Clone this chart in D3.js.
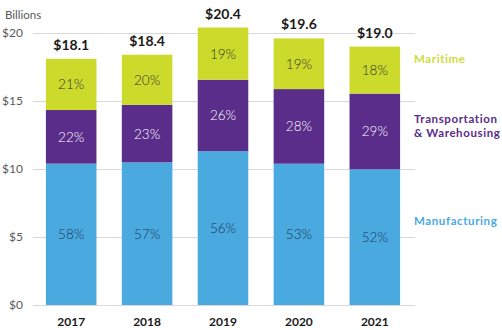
<!DOCTYPE html>
<html>
<head>
<meta charset="utf-8">
<script src="https://cdn.jsdelivr.net/npm/d3@7"></script>
<style>
  html, body { margin: 0; padding: 0; background: #fff; }
  svg { display: block; font-family: "Lato", "Open Sans", sans-serif; }
</style>
</head>
<body>
<svg id="chart" width="502" height="330"></svg>
<script>
// Economic output by sector, billions of dollars
const years = ["2017", "2018", "2019", "2020", "2021"];
const totals = [18.1, 18.4, 20.4, 19.6, 19.0];
const manufacturingPct = [58, 57, 56, 53, 52];
const transportPct = [22, 23, 26, 28, 29];
const maritimePct = [21, 20, 19, 19, 18];
const yTicks = [0, 5, 10, 15, 20];

const sectors = [
  { key: "Manufacturing", pct: manufacturingPct, fill: "#4aaadf", text: "#1d3557", legend: "#4aaadf", legendLines: ["Manufacturing"], legendY: [225] },
  { key: "Transportation", pct: transportPct, fill: "#5a2d8a", text: "#ffffff", legend: "#5a2d8a", legendLines: ["Transportation", "& Warehousing"], legendY: [123, 137] },
  { key: "Maritime", pct: maritimePct, fill: "#ccda2c", text: "#333333", legend: "#cfdc3c", legendLines: ["Maritime"], legendY: [63] }
];

const svg = d3.select("#chart");

const x = d3.scaleBand().domain(years).range([33, 413]).paddingInner(0.334).paddingOuter(0.17);
const y = d3.scaleLinear().domain([0, 20]).range([305, 33]);

// Stack segments: each segment's share of the year's total
const rows = years.map((yr, i) => {
  const sum = sectors.reduce((s, sec) => s + sec.pct[i], 0);
  let acc = 0;
  return sectors.map(sec => {
    const v = totals[i] * sec.pct[i] / sum;
    const seg = { year: yr, y0: acc, y1: acc + v, pct: sec.pct[i], sec };
    acc += v;
    return seg;
  });
});

// Gridlines
svg.append("g").selectAll("line").data(yTicks).join("line")
  .attr("x1", 33).attr("x2", 415)
  .attr("y1", d => Math.round(y(d)) + 0.5).attr("y2", d => Math.round(y(d)) + 0.5)
  .attr("stroke", "#d9d9d9").attr("stroke-width", 1);

// Y axis labels
svg.append("g").selectAll("text").data(yTicks).join("text")
  .attr("x", 23).attr("y", d => y(d) + 4)
  .attr("text-anchor", "end")
  .attr("font-size", 12).attr("fill", "#595959")
  .text(d => "$" + d);

svg.append("text").attr("x", 5).attr("y", 19)
  .attr("font-size", 11.5).attr("fill", "#595959").text("Billions");

// Bars
const barG = svg.append("g");
rows.forEach(row => {
  barG.selectAll(null).data(row).join("rect")
    .attr("x", d => x(d.year))
    .attr("width", x.bandwidth())
    .attr("y", d => y(d.y1))
    .attr("height", d => y(d.y0) - y(d.y1))
    .attr("fill", d => d.sec.fill);
  barG.selectAll(null).data(row).join("text")
    .attr("x", d => x(d.year) + x.bandwidth() / 2)
    .attr("y", d => (y(d.y0) + y(d.y1)) / 2 + 5)
    .attr("text-anchor", "middle")
    .attr("font-size", 13.5).attr("font-weight", 300)
    .attr("fill", d => d.sec.text)
    .text(d => d.pct + "%");
});

// Totals above bars
svg.append("g").selectAll("text").data(years).join("text")
  .attr("x", d => x(d) + x.bandwidth() / 2)
  .attr("y", (d, i) => y(totals[i]) - 9)
  .attr("text-anchor", "middle")
  .attr("font-size", 14).attr("font-weight", "bold").attr("fill", "#1a1a1a")
  .text((d, i) => "$" + totals[i].toFixed(1));

// X axis labels
svg.append("g").selectAll("text").data(years).join("text")
  .attr("x", d => x(d) + x.bandwidth() / 2)
  .attr("y", 326)
  .attr("text-anchor", "middle")
  .attr("font-size", 12).attr("font-weight", "bold").attr("fill", "#1a1a1a")
  .text(d => d);

// Sector labels on the right
const legendG = svg.append("g");
sectors.forEach(sec => {
  sec.legendLines.forEach((line, j) => {
    legendG.append("text")
      .attr("x", 414).attr("y", sec.legendY[j])
      .attr("font-size", 11.5).attr("font-weight", "bold")
      .attr("letter-spacing", 0.6)
      .attr("fill", sec.legend)
      .text(line);
  });
});
</script>
</body>
</html>
